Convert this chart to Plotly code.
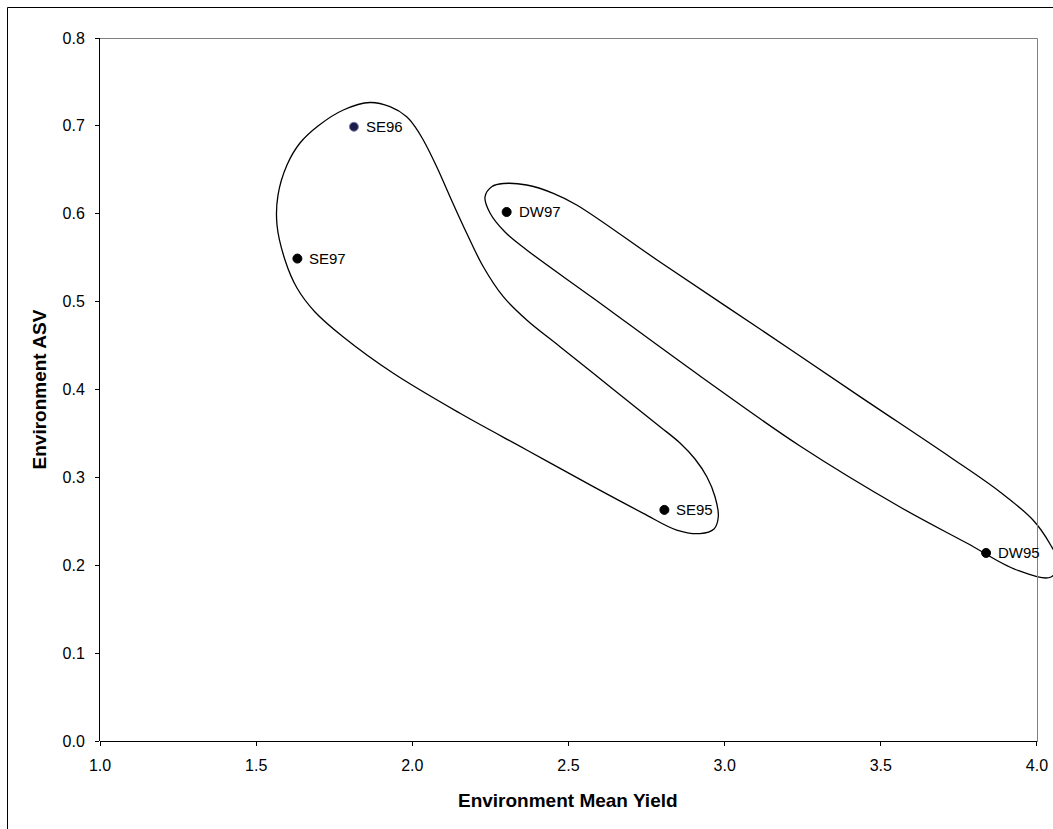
import plotly.graph_objects as go

# ---- data ----
env_names = ["SE95", "SE96", "SE97", "DW95", "DW97"]
mean_yield = [2.807, 1.813, 1.632, 3.837, 2.302]
env_asv = [0.263, 0.699, 0.549, 0.214, 0.602]
marker_fill = ["#000000", "#1c1c4c", "#000000", "#000000", "#000000"]
marker_edge = ["#000000", "#8080a8", "#000000", "#000000", "#000000"]

# outline around SE environments (closed curve, data coords)
se_outline_x = [1.8645, 1.9285, 1.9820, 2.0085, 2.0351, 2.0780, 2.1206, 2.1741, 2.2272,
                2.2913, 2.3662, 2.4728, 2.6329, 2.7930, 2.8570, 2.9050, 2.9434, 2.9691,
                2.9796, 2.9659, 2.9210, 2.8464, 2.7395, 2.5794, 2.3662, 2.1526, 1.9391,
                1.7790, 1.6884, 1.6307, 1.5923, 1.5667, 1.5699, 1.5987, 1.6403, 1.6980,
                1.7790]
se_outline_y = [0.7266, 0.7218, 0.7104, 0.6991, 0.6839, 0.6535, 0.6194, 0.5778, 0.5397,
                0.5056, 0.4791, 0.4487, 0.4032, 0.3577, 0.3391, 0.3209, 0.3004, 0.2780,
                0.2552, 0.2413, 0.2361, 0.2401, 0.2591, 0.2894, 0.3312, 0.3729, 0.4184,
                0.4597, 0.4882, 0.5155, 0.5474, 0.5872, 0.6213, 0.6555, 0.6805, 0.6999,
                0.7181]

# outline around DW environments
dw_outline_x = [2.2327, 2.2551, 2.2913, 2.3662, 2.4513, 2.5263, 2.7930, 3.1131,
                3.4333, 3.7215, 3.8816, 3.9872, 4.0417, 4.0673, 4.0449, 3.9350, 3.7749,
                3.5614, 3.2412, 2.9210, 2.5785, 2.3662, 2.2967, 2.2487]
dw_outline_y = [0.6191, 0.6310, 0.6344, 0.6327, 0.6233, 0.6100, 0.5451, 0.4688,
                0.3919, 0.3232, 0.2834, 0.2515, 0.2242, 0.2037, 0.1866, 0.1946, 0.2253,
                0.2663, 0.3357, 0.4154, 0.5041, 0.5588, 0.5792, 0.6009]

x_ticks = [1.0, 1.5, 2.0, 2.5, 3.0, 3.5, 4.0]
x_tick_text = ["1.0", "1.5", "2.0", "2.5", "3.0", "3.5", "4.0"]
y_ticks = [0.0, 0.1, 0.2, 0.3, 0.4, 0.5, 0.6, 0.7, 0.8]
y_tick_text = ["0.0", "0.1", "0.2", "0.3", "0.4", "0.5", "0.6", "0.7", "0.8"]

x_title = "Environment Mean Yield"
y_title = "Environment ASV"

# ---- layout constants ----
W, H = 1053, 829
ML, MR, MT, MB = 100, 0, 38, 88
X_MIN, X_FRAME_MAX = 1.0, 4.0
Y_MIN, Y_MAX = 0.0, 0.8
px_per_x = 312.33
X_MAX = X_MIN + (W - ML - MR) / px_per_x
PW, PH = W - ML - MR, H - MT - MB
xf = (X_FRAME_MAX - X_MIN) / (X_MAX - X_MIN) + 0.5 / PW
half_y = 0.5 / PH

FONT = "Arial, 'Liberation Sans', sans-serif"

fig = go.Figure()


def closed(seq):
    return list(seq) + [seq[0]]


for ox, oy in [(se_outline_x, se_outline_y), (dw_outline_x, dw_outline_y)]:
    fig.add_trace(go.Scatter(
        x=closed(ox), y=closed(oy), mode="lines",
        line=dict(color="black", width=1.3, shape="spline", smoothing=1.0),
        hoverinfo="skip", showlegend=False))

fig.add_trace(go.Scatter(
    x=mean_yield, y=env_asv, mode="markers",
    marker=dict(size=9, color=marker_fill, line=dict(color=marker_edge, width=1)),
    text=env_names, hoverinfo="text", showlegend=False, cliponaxis=False))

for n, xv, yv in zip(env_names, mean_yield, env_asv):
    fig.add_annotation(x=xv, y=yv, text=n, showarrow=False, xanchor="left",
                       yanchor="middle", xshift=10,
                       font=dict(family=FONT, size=15, color="black"))

# axis titles
fig.add_annotation(x=(X_FRAME_MAX - X_MIN) / (X_MAX - X_MIN) / 2, y=-0.084,
                   xref="paper", yref="paper", text="<b>" + x_title + "</b>",
                   showarrow=False, xanchor="center", yanchor="middle",
                   font=dict(family=FONT, size=19, color="black"))
fig.add_annotation(x=-0.063, y=0.5, xref="paper", yref="paper", text="<b>" + y_title + "</b>",
                   showarrow=False, xanchor="center", yanchor="middle", textangle=-90,
                   font=dict(family=FONT, size=19, color="black"))

bx = (7.5 - ML) / PW
by = 1 + (MT - 7.5) / PH
shapes = [
    # plot-area frame
    dict(type="line", xref="paper", yref="paper", x0=0, x1=xf, y0=-half_y, y1=-half_y,
         line=dict(color="black", width=1)),
    dict(type="line", xref="paper", yref="paper", x0=0, x1=xf, y0=1 - half_y, y1=1 - half_y,
         line=dict(color="#808080", width=1)),
    dict(type="line", xref="paper", yref="paper", x0=xf, x1=xf, y0=-half_y, y1=1 - half_y,
         line=dict(color="#808080", width=1)),
    # chart border
    dict(type="line", xref="paper", yref="paper", x0=bx, x1=bx, y0=-0.3, y1=by,
         line=dict(color="black", width=1)),
    dict(type="line", xref="paper", yref="paper", x0=bx, x1=1.2, y0=by, y1=by,
         line=dict(color="black", width=1)),
]

fig.update_layout(
    width=W, height=H,
    margin=dict(l=ML, r=MR, t=MT, b=MB, pad=0),
    paper_bgcolor="white", plot_bgcolor="white",
    font=dict(family=FONT, size=16, color="black"),
    shapes=shapes,
    showlegend=False,
    xaxis=dict(range=[X_MIN, X_MAX], tickvals=x_ticks, ticktext=x_tick_text,
               ticks="outside", ticklen=4, tickcolor="black", tickwidth=1,
               ticklabelstandoff=6,
               showline=False, showgrid=False, zeroline=False,
               tickfont=dict(family=FONT, size=16, color="black")),
    yaxis=dict(range=[Y_MIN, Y_MAX], tickvals=y_ticks, ticktext=y_tick_text,
               ticks="outside", ticklen=4, tickcolor="black", tickwidth=1,
               ticklabelstandoff=7,
               showline=True, linecolor="black", linewidth=1,
               showgrid=False, zeroline=False,
               tickfont=dict(family=FONT, size=16, color="black")),
)

fig.write_html("out.html", config={"displayModeBar": False},
               post_script="document.body.style.margin='0';document.body.style.overflow='hidden';")
